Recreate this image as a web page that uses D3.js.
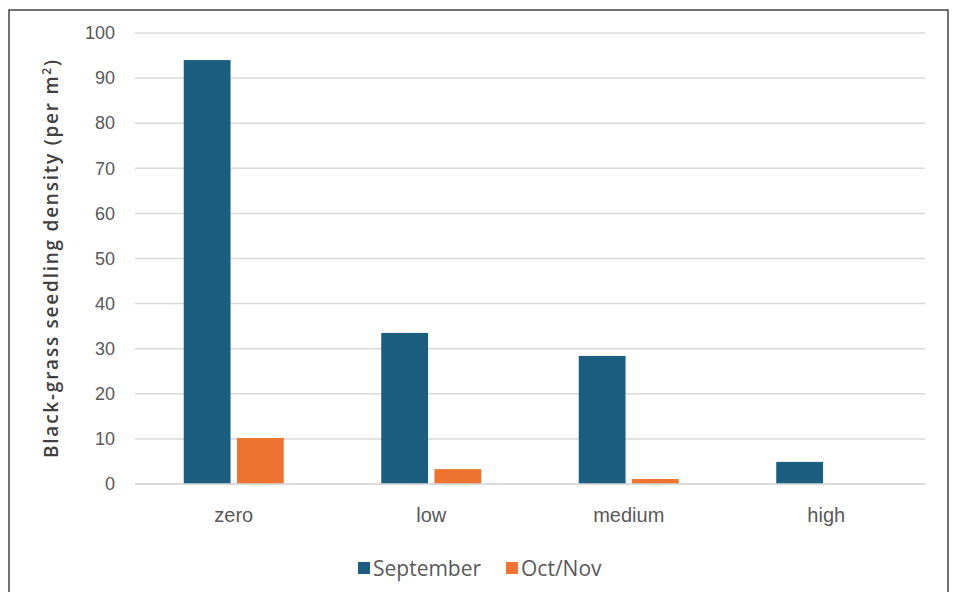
<!DOCTYPE html>
<html>
<head>
<meta charset="utf-8">
<script src="https://cdn.jsdelivr.net/npm/d3@7"></script>
<style>
  body { margin: 0; background: #fff; }
  svg { font-family: "Open Sans", Lato, sans-serif; }
  .tick text { fill: #595959; font-size: 18px; }
  .xAxis .tick text { font-size: 20px; }
  .grid line { stroke: #d9d9d9; stroke-width: 1.5; }
  .legend text { fill: #595959; font-size: 21px; }
</style>
</head>
<body>
<div id="chart"></div>
<script>
// chart data
const categories = ['zero', 'low', 'medium', 'high'];
const seriesNames = ['September', 'Oct/Nov'];
const september = [94, 33.5, 28.4, 4.9];
const octNov = [10.2, 3.3, 1.1, 0];
const yTicks = [0, 10, 20, 30, 40, 50, 60, 70, 80, 90, 100];
const colours = ['#1b5e80', '#ec7430'];

const width = 954, height = 592;
const margin = {top: 33, right: 29, bottom: 108, left: 135};

let svg = d3.select('#chart')
            .append('svg')
            .attr('width', width)
            .attr('height', height);

// outer frame
svg.append('rect')
   .attr('x', 9)
   .attr('y', 10)
   .attr('width', 939)
   .attr('height', 590)
   .attr('fill', 'none')
   .attr('stroke', '#444')
   .attr('stroke-width', 1.5);

let x = d3.scaleBand()
          .domain(categories)
          .range([margin.left, width - margin.right]);

let xInner = d3.scaleBand()
               .domain(seriesNames)
               .range([0, 100])
               .paddingInner(0.12);

let y = d3.scaleLinear()
          .domain([0, 100])
          .range([height - margin.bottom, margin.top]);

// gridlines
svg.append('g')
   .attr('class', 'grid')
   .selectAll('line')
   .data(yTicks)
   .enter()
   .append('line')
   .attr('x1', margin.left)
   .attr('x2', width - margin.right)
   .attr('y1', d => y(d))
   .attr('y2', d => y(d));

// y axis labels
let yAxis = d3.axisLeft(y)
              .tickValues(yTicks)
              .tickSize(0)
              .tickPadding(20);

svg.append('g')
   .attr('transform', `translate(${margin.left}, 0)`)
   .call(yAxis)
   .call(g => g.select('.domain').remove());

let rows = categories.map((c, i) => ({cat: c, values: [september[i], octNov[i]]}));

let groups = svg.selectAll('g.group')
                .data(rows)
                .enter()
                .append('g')
                .attr('class', 'group')
                .attr('transform', d => `translate(${x(d.cat) + x.bandwidth() / 2 - 50}, 0)`);

groups.selectAll('rect')
      .data(d => d.values.map((v, j) => ({name: seriesNames[j], value: v, colour: colours[j]})))
      .enter()
      .append('rect')
      .attr('x', d => xInner(d.name))
      .attr('width', xInner.bandwidth())
      .attr('y', d => y(d.value))
      .attr('height', d => y(0) - y(d.value))
      .style('fill', d => d.colour);

// baseline redrawn above bars
svg.append('line')
   .attr('x1', margin.left)
   .attr('x2', width - margin.right)
   .attr('y1', y(0))
   .attr('y2', y(0))
   .attr('stroke', '#d9d9d9')
   .attr('stroke-width', 1.5);

// x axis labels
let xAxis = d3.axisBottom(x)
              .tickSize(0)
              .tickPadding(24);

svg.append('g')
   .attr('class', 'xAxis')
   .attr('transform', `translate(0, ${y(0)})`)
   .call(xAxis)
   .call(g => g.select('.domain').remove());

// y axis title
let yTitle = svg.append('text')
                .attr('transform', `translate(58, 259) rotate(-90)`)
                .attr('text-anchor', 'middle')
                .attr('textLength', 398)
                .attr('lengthAdjust', 'spacing')
                .style('font-size', '19px')
                .style('font-weight', 600)
                .style('fill', '#404040');

yTitle.append('tspan').text('Black-grass seedling density  (per m');
yTitle.append('tspan').attr('dy', -7).style('font-size', '12px').text('2');
yTitle.append('tspan').attr('dy', 7).text(')');

// legend
let legendX = [358, 506];
let legend = svg.append('g')
                .attr('class', 'legend')
                .selectAll('g')
                .data(seriesNames)
                .enter()
                .append('g')
                .attr('transform', (d, i) => `translate(${legendX[i]}, 562)`);

legend.append('rect')
      .attr('width', 12)
      .attr('height', 12)
      .style('fill', (d, i) => colours[i]);

legend.append('text')
      .attr('x', 15)
      .attr('y', 7)
      .attr('dy', '0.35em')
      .text(d => d);
</script>
</body>
</html>
